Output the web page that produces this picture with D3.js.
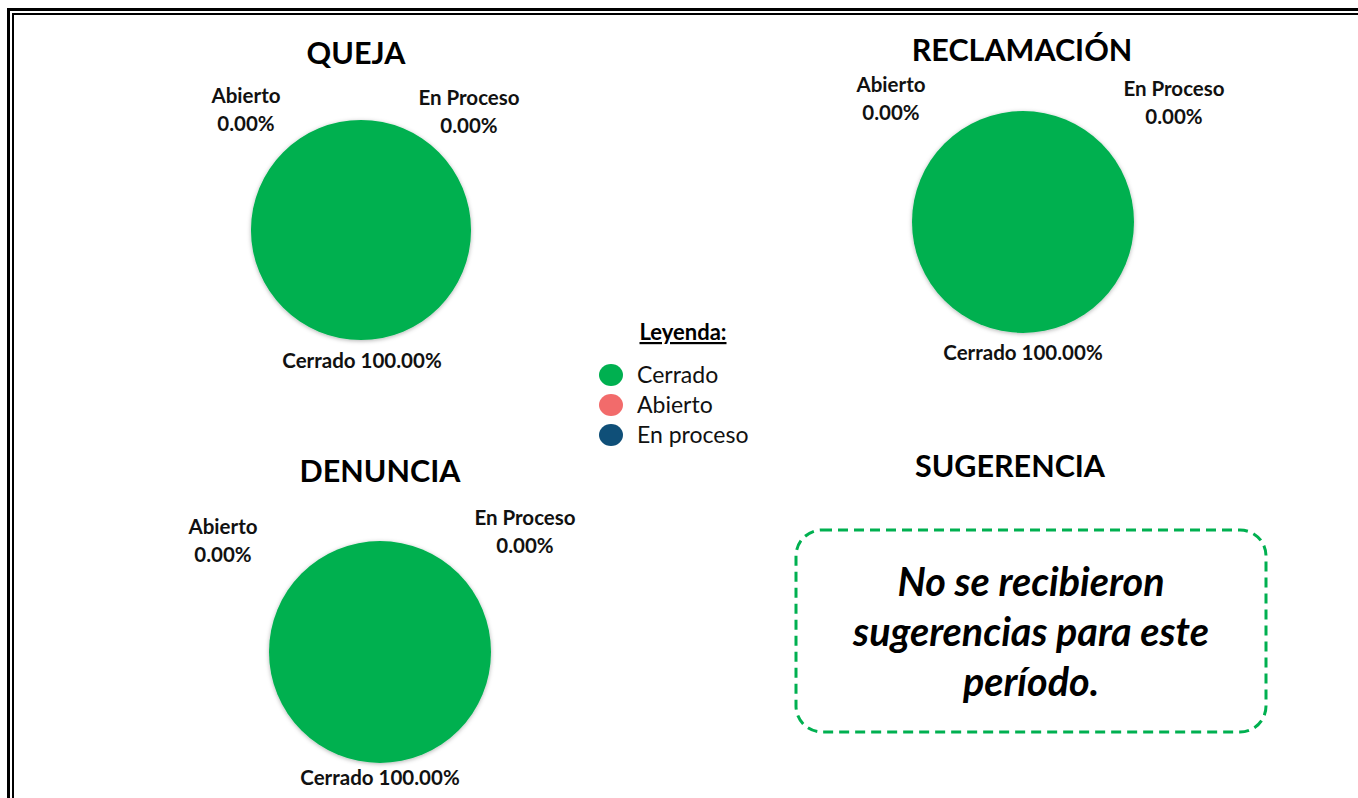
<!DOCTYPE html>
<html>
<head>
<meta charset="utf-8">
<script src="https://cdn.jsdelivr.net/npm/d3@7"></script>
<style>
  html, body { margin: 0; padding: 0; background: #fff; }
  svg { display: block; font-family: Lato, "Open Sans", sans-serif; }
</style>
</head>
<body>
<svg id="chart" width="1358" height="798"></svg>
<script>
// Data
const estados = ['Cerrado', 'Abierto', 'En Proceso'];
const legendLabels = ['Cerrado', 'Abierto', 'En proceso'];
const colores = ['#00b050', '#f26b6b', '#0f4f78'];

const titulos = ['QUEJA', 'RECLAMACIÓN', 'DENUNCIA'];
const valoresQueja = [100, 0, 0];
const valoresReclamacion = [100, 0, 0];
const valoresDenuncia = [100, 0, 0];

const sugerenciaTitulo = 'SUGERENCIA';
const sugerenciaTexto = ['No se recibieron', 'sugerencias para este', 'período.'];

// Layout
const layout = [
  { cx: 361, cy: 230, r: 110, titleX: 356, titleY: 64,
    labels: { 'Cerrado': [362, 368], 'Abierto': [246, 103], 'En Proceso': [469, 105] } },
  { cx: 1023, cy: 222, r: 111, titleX: 1022, titleY: 61,
    labels: { 'Cerrado': [1023, 360], 'Abierto': [891, 92], 'En Proceso': [1174, 96] } },
  { cx: 380, cy: 652, r: 111, titleX: 380, titleY: 482,
    labels: { 'Cerrado': [380, 785], 'Abierto': [223, 534], 'En Proceso': [525, 525] } }
];
const series = [valoresQueja, valoresReclamacion, valoresDenuncia];

const svg = d3.select('#chart');
const color = d3.scaleOrdinal().domain(estados).range(colores);
const fmt = d3.format('.2f');

// Double frame
svg.append('rect').attr('x', 8.5).attr('y', 9.5).attr('width', 1400).attr('height', 900)
  .attr('fill', 'none').attr('stroke', '#000').attr('stroke-width', 3);
svg.append('rect').attr('x', 13).attr('y', 14).attr('width', 1400).attr('height', 900)
  .attr('fill', 'none').attr('stroke', '#000').attr('stroke-width', 2);

const defs = svg.append('defs');
const shadow = defs.append('filter').attr('id', 'sombra')
  .attr('x', '-10%').attr('y', '-10%').attr('width', '120%').attr('height', '120%');
shadow.append('feDropShadow').attr('dx', 0).attr('dy', 1).attr('stdDeviation', 2)
  .attr('flood-color', '#000').attr('flood-opacity', 0.3);

const pie = d3.pie().sort(null).value(d => d.value);

series.forEach((vals, i) => {
  const L = layout[i];
  const data = estados.map((e, j) => ({ estado: e, value: vals[j] }));
  const total = d3.sum(data, d => d.value);
  const arc = d3.arc().innerRadius(0).outerRadius(L.r);

  svg.append('text')
    .attr('x', L.titleX).attr('y', L.titleY)
    .attr('text-anchor', 'middle')
    .attr('font-size', 30.5).attr('font-weight', 700)
    .text(titulos[i]);

  const g = svg.append('g').attr('transform', `translate(${L.cx},${L.cy})`)
    .attr('filter', 'url(#sombra)');
  g.selectAll('path').data(pie(data)).join('path')
    .attr('d', arc)
    .attr('fill', d => color(d.data.estado));

  data.forEach(d => {
    const [lx, ly] = L.labels[d.estado];
    const pct = fmt(d.value / total * 100) + '%';
    const t = svg.append('text')
      .attr('x', lx).attr('y', ly)
      .attr('text-anchor', 'middle')
      .attr('font-size', 20.5).attr('font-weight', 700).attr('fill', '#111');
    if (d.estado === 'Cerrado') {
      t.text(`${d.estado} ${pct}`);
    } else {
      t.append('tspan').attr('x', lx).text(d.estado);
      t.append('tspan').attr('x', lx).attr('dy', 28).text(pct);
    }
  });
});

// Legend
const leg = svg.append('g');
leg.append('text').attr('x', 683).attr('y', 340)
  .attr('text-anchor', 'middle').attr('font-size', 22).attr('font-weight', 700)
  .attr('text-decoration', 'underline').text('Leyenda:');
legendLabels.forEach((lab, j) => {
  const y = 375 + j * 30;
  leg.append('ellipse').attr('cx', 611).attr('cy', y).attr('rx', 12).attr('ry', 11)
    .attr('fill', colores[j]);
  leg.append('text').attr('x', 637).attr('y', y + 8)
    .attr('font-size', 23).attr('fill', '#111').text(lab);
});

// Sugerencia
svg.append('text').attr('x', 1010).attr('y', 477)
  .attr('text-anchor', 'middle').attr('font-size', 30.5).attr('font-weight', 700)
  .text(sugerenciaTitulo);
svg.append('rect').attr('x', 796).attr('y', 530).attr('width', 470).attr('height', 202)
  .attr('rx', 26).attr('ry', 26)
  .attr('fill', 'none').attr('stroke', '#00b050').attr('stroke-width', 3)
  .attr('stroke-dasharray', '10 6');
sugerenciaTexto.forEach((line, k) => {
  svg.append('text').attr('x', 1031).attr('y', 596 + k * 50)
    .attr('text-anchor', 'middle').attr('font-size', 39.5)
    .attr('font-weight', 700).attr('font-style', 'italic').attr('fill', '#000')
    .text(line);
});
</script>
</body>
</html>
